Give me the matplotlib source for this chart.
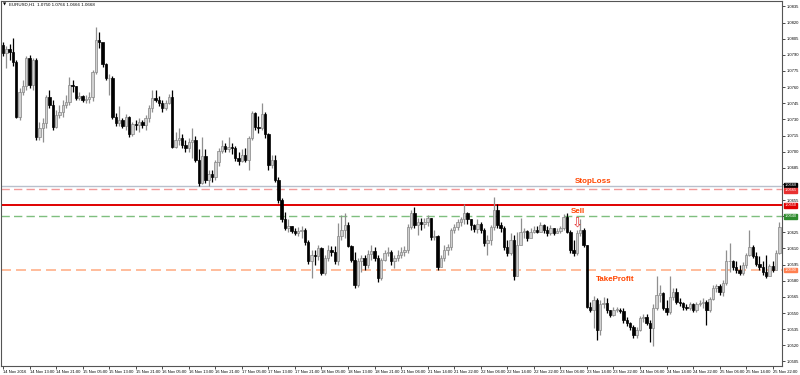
import matplotlib
matplotlib.use("Agg")
import matplotlib.pyplot as plt
import numpy as np

plt.rcParams['font.family'] = ['Liberation Sans', 'DejaVu Sans']

title_text = "EURUSD,H1  1.0750 1.0766 1.0666 1.0668"

first_open = 1.0799
closes = [1.0792,1.0795,1.0793,1.0783,1.0732,1.0755,1.0761,1.0787,1.0762,1.0785,
          1.0714,1.0722,1.0727,1.0751,1.0743,1.0723,1.0734,1.0737,1.0743,1.0746,
          1.0762,1.0761,1.0750,1.0752,1.0748,1.0749,1.0751,1.0774,1.0804,1.0802,
          1.0781,1.0768,1.0768,1.0732,1.0727,1.0729,1.0724,1.0732,1.0716,1.0726,
          1.0725,1.0728,1.0725,1.0731,1.0741,1.0750,1.0748,1.0745,1.0741,1.0745,
          1.0751,1.0704,1.0711,1.0713,1.0706,1.0703,1.0709,1.0711,1.0692,1.0671,
          1.0696,1.0674,1.0679,1.0676,1.0690,1.0701,1.0705,1.0702,1.0704,1.0703,
          1.0694,1.0691,1.0697,1.0692,1.0713,1.0736,1.0723,1.0722,1.0735,1.0716,
          1.0688,1.0692,1.0674,1.0655,1.0637,1.0629,1.0631,1.0626,1.0624,1.0626,
          1.0627,1.0616,1.0598,1.0604,1.0603,1.0610,1.0587,1.0601,1.0609,1.0607,
          1.0598,1.0622,1.0627,1.0632,1.0612,1.0599,1.0576,1.0598,1.0601,1.0595,
          1.0605,1.0608,1.0601,1.0583,1.0599,1.0606,1.0607,1.0598,1.0601,1.0604,
          1.0607,1.0609,1.0630,1.0643,1.0632,1.0635,1.0633,1.0635,1.0638,1.0621,
          1.0622,1.0593,1.0601,1.0609,1.0611,1.0627,1.0630,1.0635,1.0637,1.0643,
          1.0637,1.0632,1.0628,1.0633,1.0627,1.0615,1.0618,1.0630,1.0646,1.0632,
          1.0629,1.0611,1.0606,1.0618,1.0584,1.0613,1.0625,1.0626,1.0620,1.0625,
          1.0627,1.0625,1.0632,1.0627,1.0624,1.0629,1.0624,1.0626,1.0629,1.0639,
          1.0625,1.0609,1.0606,1.0624,1.0627,1.0613,1.0556,1.0553,1.0562,1.0534,
          1.0558,1.0559,1.0553,1.0548,1.0553,1.0553,1.0552,1.0544,1.0541,1.0537,
          1.0530,1.0534,1.0545,1.0546,1.0541,1.0536,1.0555,1.0567,1.0569,1.0555,
          1.0551,1.0565,1.0570,1.0560,1.0559,1.0556,1.0555,1.0558,1.0553,1.0558,
          1.0559,1.0560,1.0553,1.0563,1.0573,1.0575,1.0570,1.0578,1.0598,1.0598,
          1.0593,1.0590,1.0587,1.0595,1.0604,1.0611,1.0603,1.0596,1.0593,1.0588,
          1.0584,1.0594,1.0590,1.0606,1.0630]
highs = [1.0802,1.0798,1.0800,1.0806,1.0785,1.0759,1.0767,1.0789,1.0790,1.0787,
         1.0787,1.0728,1.0731,1.0753,1.0757,1.0748,1.0739,1.0743,1.0748,1.0753,
         1.0769,1.0767,1.0761,1.0755,1.0753,1.0753,1.0755,1.0776,1.0816,1.0811,
         1.0800,1.0782,1.0772,1.0770,1.0736,1.0742,1.0731,1.0735,1.0733,1.0728,
         1.0729,1.0731,1.0729,1.0734,1.0743,1.0757,1.0757,1.0752,1.0748,1.0748,
         1.0754,1.0757,1.0718,1.0722,1.0716,1.0711,1.0713,1.0722,1.0715,1.0702,
         1.0714,1.0702,1.0683,1.0683,1.0692,1.0703,1.0711,1.0708,1.0714,1.0708,
         1.0705,1.0700,1.0702,1.0703,1.0715,1.0738,1.0737,1.0733,1.0745,1.0737,
         1.0717,1.0697,1.0697,1.0676,1.0657,1.0644,1.0637,1.0631,1.0629,1.0630,
         1.0631,1.0629,1.0618,1.0609,1.0609,1.0613,1.0611,1.0604,1.0613,1.0612,
         1.0612,1.0634,1.0641,1.0643,1.0635,1.0613,1.0607,1.0601,1.0604,1.0604,
         1.0609,1.0613,1.0611,1.0604,1.0601,1.0609,1.0611,1.0609,1.0604,1.0609,
         1.0611,1.0612,1.0633,1.0646,1.0649,1.0638,1.0638,1.0638,1.0641,1.0638,
         1.0627,1.0623,1.0604,1.0613,1.0614,1.0629,1.0633,1.0637,1.0639,1.0651,
         1.0644,1.0637,1.0633,1.0637,1.0635,1.0629,1.0623,1.0632,1.0658,1.0651,
         1.0635,1.0631,1.0618,1.0624,1.0623,1.0625,1.0638,1.0629,1.0627,1.0629,
         1.0631,1.0631,1.0635,1.0633,1.0631,1.0632,1.0629,1.0629,1.0631,1.0642,
         1.0643,1.0627,1.0618,1.0627,1.0637,1.0629,1.0613,1.0560,1.0566,1.0564,
         1.0562,1.0565,1.0564,1.0553,1.0556,1.0556,1.0555,1.0555,1.0546,1.0542,
         1.0539,1.0537,1.0547,1.0549,1.0549,1.0544,1.0558,1.0584,1.0576,1.0570,
         1.0562,1.0584,1.0573,1.0573,1.0564,1.0560,1.0558,1.0560,1.0559,1.0560,
         1.0562,1.0564,1.0562,1.0565,1.0576,1.0577,1.0577,1.0581,1.0609,1.0615,
         1.0599,1.0598,1.0595,1.0597,1.0606,1.0627,1.0613,1.0607,1.0603,1.0598,
         1.0604,1.0596,1.0598,1.0609,1.0635]
lows = [1.0789,1.0778,1.0785,1.0780,1.0731,1.0729,1.0753,1.0757,1.0759,1.0757,
        1.0711,1.0711,1.0709,1.0722,1.0741,1.0720,1.0722,1.0731,1.0732,1.0741,
        1.0743,1.0755,1.0748,1.0748,1.0746,1.0745,1.0745,1.0747,1.0772,1.0796,
        1.0779,1.0767,1.0753,1.0730,1.0724,1.0724,1.0722,1.0720,1.0714,1.0715,
        1.0720,1.0718,1.0722,1.0720,1.0728,1.0737,1.0746,1.0742,1.0737,1.0739,
        1.0744,1.0703,1.0703,1.0706,1.0703,1.0700,1.0700,1.0694,1.0690,1.0668,
        1.0670,1.0671,1.0668,1.0672,1.0674,1.0687,1.0699,1.0700,1.0700,1.0698,
        1.0691,1.0688,1.0690,1.0690,1.0683,1.0711,1.0720,1.0717,1.0720,1.0713,
        1.0683,1.0685,1.0672,1.0652,1.0635,1.0627,1.0625,1.0624,1.0623,1.0622,
        1.0620,1.0613,1.0596,1.0583,1.0595,1.0599,1.0585,1.0585,1.0598,1.0603,
        1.0596,1.0595,1.0618,1.0620,1.0611,1.0597,1.0573,1.0574,1.0588,1.0590,
        1.0592,1.0599,1.0598,1.0579,1.0581,1.0598,1.0603,1.0595,1.0592,1.0598,
        1.0601,1.0603,1.0606,1.0628,1.0629,1.0623,1.0627,1.0629,1.0631,1.0618,
        1.0618,1.0590,1.0595,1.0598,1.0604,1.0609,1.0624,1.0627,1.0631,1.0633,
        1.0633,1.0627,1.0625,1.0624,1.0624,1.0612,1.0604,1.0613,1.0627,1.0629,
        1.0625,1.0609,1.0603,1.0604,1.0581,1.0584,1.0616,1.0620,1.0617,1.0622,
        1.0624,1.0624,1.0625,1.0624,1.0622,1.0623,1.0623,1.0624,1.0624,1.0627,
        1.0624,1.0606,1.0603,1.0604,1.0622,1.0611,1.0555,1.0551,1.0536,1.0525,
        1.0530,1.0555,1.0550,1.0546,1.0547,1.0551,1.0550,1.0541,1.0538,1.0534,
        1.0527,1.0527,1.0533,1.0542,1.0539,1.0523,1.0519,1.0553,1.0560,1.0553,
        1.0548,1.0549,1.0562,1.0558,1.0557,1.0553,1.0553,1.0553,1.0551,1.0551,
        1.0557,1.0555,1.0539,1.0551,1.0562,1.0570,1.0567,1.0566,1.0576,1.0588,
        1.0590,1.0587,1.0585,1.0585,1.0592,1.0603,1.0601,1.0594,1.0590,1.0585,
        1.0583,1.0585,1.0588,1.0592,1.0605]

time_labels = ["14 Nov 2016","14 Nov 13:00","14 Nov 21:00","15 Nov 05:00","15 Nov 13:00",
               "15 Nov 21:00","16 Nov 05:00","16 Nov 13:00","16 Nov 21:00","17 Nov 05:00",
               "17 Nov 13:00","17 Nov 21:00","18 Nov 05:00","18 Nov 13:00","18 Nov 21:00",
               "21 Nov 06:00","21 Nov 14:00","21 Nov 22:00","22 Nov 06:00","22 Nov 14:00",
               "22 Nov 22:00","23 Nov 06:00","23 Nov 14:00","23 Nov 22:00","24 Nov 06:00",
               "24 Nov 14:00","24 Nov 22:00","25 Nov 06:00","25 Nov 14:00","25 Nov 22:00"]
label_step = 8

bid_price = 1.0668
stop_loss = 1.0665
entry_price = 1.0650
sell_level = 1.0640
take_profit = 1.0590
sell_bar = 173
sell_arrow_price = 1.0633

price_ticks = [1.0505,1.0520,1.0535,1.0550,1.0565,1.0580,1.0595,1.0610,1.0625,1.0640,
               1.0655,1.0670,1.0685,1.0700,1.0715,1.0730,1.0745,1.0760,1.0775,1.0790,
               1.0805,1.0820,1.0835]
# tick labels hidden behind the level boxes on the price scale
covered_ticks = [1.0640, 1.0670]

opens = [first_open] + closes[:-1]
n = len(closes)
x = np.arange(n)

fig = plt.figure(figsize=(8, 3.75), dpi=100)
ax = fig.add_axes([1/800, 9/375, 781/800, 365/375])

o = np.array(opens); c = np.array(closes); h = np.array(highs); l = np.array(lows)
bull = c >= o
bear = ~bull
ax.vlines(x[bull], l[bull], h[bull], color="#8f8f8f", lw=0.9, zorder=2)
ax.vlines(x[bear], l[bear], h[bear], color="#000000", lw=0.9, zorder=2)
bw = 0.72
hb = np.maximum(np.abs(c - o), 0.00006)
ax.bar(x[bull], hb[bull], bottom=np.minimum(o, c)[bull], width=bw,
       color="#d0d0d0", edgecolor="#858585", linewidth=0.5, zorder=3)
ax.bar(x[bear], hb[bear], bottom=np.minimum(o, c)[bear], width=bw,
       color="#000000", edgecolor="#000000", linewidth=0.5, zorder=3)

ax.axhline(bid_price, color="#b8c0cc", lw=1.0, zorder=1)
ax.axhline(stop_loss, color="#f29a9a", lw=1.0, ls=(0, (6, 3)), zorder=1)
ax.axhline(entry_price, color="#e00000", lw=1.4, zorder=1)
ax.axhline(sell_level, color="#7fbf7f", lw=1.0, ls=(0, (6, 3)), zorder=1)
ax.axhline(take_profit, color="#ffb08a", lw=1.2, ls=(0, (6, 3)), zorder=1)

lab_col = "#ff4500"
ax.text(172.3, 1.0672, "StopLoss", color=lab_col, fontsize=5.8, fontweight="bold",
        ha="left", va="center", zorder=5)
ax.text(171.2, 1.06445, "Sell", color=lab_col, fontsize=5.8, fontweight="bold",
        ha="left", va="center", zorder=5)
ax.text(178.8, 1.0581, "TakeProfit", color=lab_col, fontsize=5.8, fontweight="bold",
        ha="left", va="center", zorder=5)
ax.text(sell_bar, sell_arrow_price, "\u21e9", color="#e03030", fontsize=9.5,
        family="DejaVu Sans", ha="center", va="center", zorder=6)

ax.set_xlim(-0.6, 234.8)
ax.set_ylim(1.05008, 1.08400)

ax.yaxis.tick_right()
ax.set_yticks(price_ticks)
ax.set_yticklabels(["" if p in covered_ticks else f"{p:.4f}" for p in price_ticks],
                   fontsize=3.0, color="#000000")
ax.tick_params(axis="y", length=2, width=0.5, pad=1.2, colors="#000000")

xt = [i * label_step for i in range(len(time_labels))]
ax.set_xticks(xt)
ax.set_xticklabels(time_labels, fontsize=3.0, ha="left")
ax.tick_params(axis="x", length=2, width=0.5, pad=0.8)

for s in ax.spines.values():
    s.set_color("#555555")
    s.set_linewidth(0.8)

def price_box(val, bg, txt, fg="white"):
    ax.text(1.003, val, txt, transform=ax.get_yaxis_transform(),
            fontsize=2.8, color=fg, ha="left", va="center",
            bbox=dict(boxstyle="square,pad=0.12", fc=bg, ec=bg), zorder=10, clip_on=False)

price_box(bid_price + 0.0001, "#000000", "1.0668")
price_box(stop_loss - 0.0001, "#e83030", "1.0665")
price_box(entry_price, "#e00000", "1.0650")
price_box(sell_level, "#2e8b2e", "1.0640")
price_box(take_profit, "#ff7f50", "1.0590")

fig.text(3/800, 1 - 5/375, "\u25bc", fontsize=3, va="center", ha="left", color="#000000",
         family="DejaVu Sans")
fig.text(9/800, 1 - 5/375, title_text, fontsize=3.2, va="center", ha="left", color="#000000")

fig.savefig("out.png", dpi=100, facecolor="white")
